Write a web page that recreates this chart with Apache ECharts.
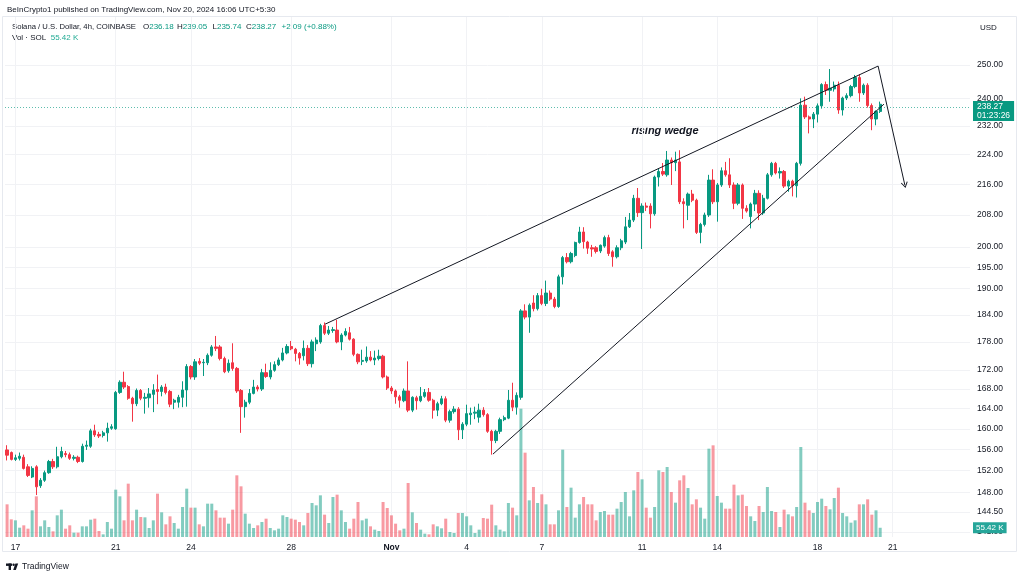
<!DOCTYPE html>
<html>
<head>
<meta charset="utf-8">
<script src="https://cdn.jsdelivr.net/npm/echarts@6/dist/echarts.min.js"></script>
<style>
  html, body { margin: 0; padding: 0; background: #fff; }
  #chart { width: 1024px; height: 578px; }
</style>
</head>
<body>
<div id="chart"></div>
<script>
  // SOL/USD 4h candles, Oct 16 17:30 -> Nov 20 13:30 (UTC+5:30)
  const opens = [
    155.9, 155.4, 154.1, 154.3, 154.5, 152.7, 150.8, 152.7, 149.2, 150.2,
    151.6, 153.7, 152.7, 154.6, 155.2, 155.0, 154.3, 154.5, 153.7, 156.6,
    156.6, 159.6, 158.9, 158.7, 159.2, 160.1, 160.0, 167.3, 169.4, 168.5,
    166.1, 165.0, 167.7, 166.1, 166.2, 166.9, 167.9, 167.5, 168.4, 167.5,
    165.3, 165.3, 166.3, 167.8, 172.7, 170.5, 173.8, 173.5, 173.5, 175.1,
    176.9, 176.9, 174.4, 171.8, 173.5, 172.3, 167.7, 164.4, 165.3, 167.1,
    168.4, 168.0, 171.4, 170.5, 171.9, 173.1, 174.1, 175.6, 177.0, 176.4,
    175.5, 175.0, 176.6, 173.3, 177.6, 178.0, 181.6, 179.9, 180.5, 180.6,
    178.0, 179.5, 180.0, 178.6, 175.3, 173.8, 173.9, 174.7, 174.1, 174.4,
    174.9, 170.5, 168.2, 167.6, 166.4, 165.6, 167.6, 163.7, 166.2, 165.6,
    166.5, 167.3, 165.7, 163.7, 165.0, 166.0, 161.7, 163.4, 163.9, 159.8,
    160.9, 162.8, 163.1, 162.3, 163.7, 162.8, 159.5, 157.7, 159.5, 161.8,
    162.1, 165.7, 164.3, 166.3, 184.9, 183.5, 186.7, 185.4, 188.4, 186.6,
    189.0, 187.6, 185.9, 192.8, 197.4, 196.4, 197.9, 201.1, 203.7, 201.2,
    199.8, 199.8, 199.0, 200.2, 202.3, 198.8, 197.6, 199.8, 201.2, 205.0,
    206.7, 212.3, 208.6, 210.3, 210.3, 208.3, 217.9, 219.4, 218.5, 222.5,
    221.8, 222.0, 211.4, 210.5, 213.4, 211.8, 203.6, 205.6, 208.0, 217.1,
    211.4, 215.8, 219.6, 218.5, 215.8, 211.0, 215.8, 209.7, 207.6, 210.8,
    213.6, 208.5, 212.3, 218.5, 221.6, 219.0, 219.4, 215.5, 216.8, 215.6,
    221.6, 238.0, 234.6, 234.0, 235.4, 237.8, 244.1, 242.4, 242.8, 243.9,
    236.6, 240.1, 240.8, 243.5, 246.2, 241.6, 243.9, 237.9, 234.0, 236.18
  ];
  const highs = [
    156.8, 155.6, 155.0, 155.4, 155.0, 153.2, 152.8, 153.0, 150.6, 152.0,
    154.0, 154.2, 156.5, 156.5, 155.7, 155.4, 154.9, 154.8, 157.1, 157.7,
    160.0, 160.8, 159.4, 159.6, 161.2, 160.9, 167.6, 169.8, 171.6, 168.8,
    166.4, 168.1, 168.0, 167.2, 168.2, 169.0, 171.0, 168.8, 169.1, 167.8,
    166.0, 166.8, 169.6, 173.2, 173.0, 174.3, 174.5, 174.3, 175.5, 177.3,
    179.3, 177.3, 174.8, 174.2, 177.7, 172.6, 168.0, 165.8, 168.0, 169.9,
    168.8, 172.2, 173.3, 173.6, 173.8, 174.6, 176.7, 177.5, 178.2, 176.7,
    175.8, 178.3, 177.3, 178.5, 179.0, 182.0, 182.3, 181.5, 181.3, 182.9,
    179.9, 181.0, 181.3, 178.8, 175.5, 176.3, 177.0, 176.0, 176.1, 176.3,
    175.2, 170.8, 168.6, 167.9, 166.8, 168.1, 173.8, 166.5, 166.6, 168.4,
    168.0, 168.2, 166.0, 165.4, 166.6, 166.5, 163.8, 164.5, 164.3, 161.3,
    164.8, 164.2, 164.4, 165.0, 164.3, 163.1, 159.8, 159.8, 162.2, 162.6,
    167.8, 169.3, 167.3, 185.3, 186.4, 186.6, 188.5, 189.0, 190.0, 191.9,
    189.6, 188.1, 193.3, 197.8, 198.5, 198.8, 201.3, 205.0, 204.9, 201.5,
    200.5, 200.2, 200.6, 202.8, 203.0, 199.2, 200.4, 202.0, 207.5, 208.5,
    213.2, 215.0, 211.0, 211.2, 211.0, 218.3, 220.3, 221.7, 225.0, 223.2,
    224.8, 225.2, 212.3, 213.8, 214.5, 212.2, 206.0, 208.6, 218.5, 220.0,
    216.3, 220.5, 222.0, 223.0, 216.5, 216.3, 216.2, 210.5, 211.2, 214.5,
    214.4, 213.2, 219.0, 222.0, 222.0, 220.5, 219.8, 217.2, 217.2, 222.0,
    240.0, 240.5, 235.0, 236.0, 238.5, 244.5, 245.0, 248.8, 245.0, 245.0,
    240.5, 241.5, 244.0, 247.0, 247.2, 244.4, 244.5, 238.5, 236.5, 239.05
  ];
  const lows = [
    153.9, 153.9, 153.8, 153.9, 152.2, 150.8, 150.6, 147.5, 148.8, 149.9,
    151.4, 152.3, 152.4, 154.3, 154.5, 154.0, 153.9, 153.4, 153.5, 155.9,
    156.3, 158.4, 158.2, 158.3, 157.5, 159.8, 159.8, 167.0, 168.0, 165.8,
    161.4, 164.5, 165.7, 163.0, 164.2, 163.3, 164.9, 166.5, 166.9, 164.3,
    163.9, 164.2, 164.3, 164.4, 170.0, 169.9, 173.0, 170.7, 173.0, 174.8,
    176.0, 174.0, 171.3, 171.4, 171.8, 167.2, 159.2, 162.2, 164.9, 166.9,
    167.5, 167.6, 170.3, 170.0, 171.6, 172.8, 173.8, 175.3, 176.2, 173.8,
    173.1, 174.0, 172.8, 172.5, 176.0, 177.6, 179.5, 179.5, 180.0, 177.7,
    176.2, 179.2, 178.3, 174.9, 173.2, 173.0, 173.5, 173.8, 173.0, 174.0,
    170.2, 167.8, 167.0, 165.0, 164.2, 165.3, 163.3, 163.3, 163.8, 165.3,
    166.2, 165.4, 162.0, 162.5, 164.7, 161.3, 161.2, 163.0, 157.8, 158.0,
    160.5, 160.8, 161.9, 161.2, 162.4, 159.2, 155.0, 157.2, 159.0, 161.5,
    161.9, 163.5, 162.8, 165.8, 183.0, 180.0, 184.8, 185.0, 186.2, 186.0,
    187.2, 185.5, 185.6, 191.0, 196.0, 196.0, 197.5, 200.8, 199.6, 198.3,
    197.6, 198.4, 198.5, 199.8, 197.8, 195.2, 197.2, 199.2, 200.7, 204.7,
    206.2, 207.5, 199.5, 209.0, 204.6, 207.8, 215.4, 218.2, 218.0, 215.8,
    219.5, 210.8, 204.6, 206.7, 211.3, 203.2, 200.9, 205.1, 207.5, 210.8,
    206.3, 215.3, 218.0, 215.0, 209.5, 210.5, 207.0, 208.6, 204.6, 209.0,
    206.7, 208.0, 212.0, 218.0, 218.6, 217.5, 215.0, 214.0, 212.8, 212.5,
    221.0, 234.0, 229.9, 231.4, 233.0, 237.0, 241.0, 239.0, 242.0, 235.5,
    235.0, 239.5, 240.3, 243.0, 239.0, 241.0, 237.3, 230.8, 232.2, 235.74
  ];
  const closes = [
    154.9, 154.1, 154.4, 154.7, 152.4, 151.1, 152.4, 149.0, 150.2, 151.6,
    153.7, 152.7, 154.6, 155.6, 155.0, 154.3, 154.5, 153.7, 156.6, 156.8,
    159.6, 158.8, 158.6, 159.2, 160.1, 160.4, 167.3, 169.4, 168.4, 166.1,
    165.0, 167.7, 166.1, 166.3, 167.0, 167.8, 167.5, 168.4, 167.3, 164.9,
    165.7, 166.3, 167.8, 172.7, 170.5, 173.7, 173.4, 173.6, 175.1, 176.9,
    176.6, 174.4, 171.6, 173.4, 172.3, 167.6, 164.4, 165.3, 167.1, 168.4,
    168.0, 171.4, 170.6, 171.9, 173.1, 174.1, 175.6, 177.0, 176.5, 175.5,
    174.5, 176.6, 173.3, 178.0, 178.4, 181.6, 179.9, 180.6, 180.7, 178.0,
    179.5, 180.3, 178.6, 175.3, 173.7, 174.0, 174.7, 174.1, 174.5, 174.9,
    170.5, 168.2, 167.6, 166.4, 165.7, 167.6, 163.7, 166.3, 165.6, 166.5,
    167.3, 165.7, 163.7, 165.0, 166.0, 161.7, 163.4, 163.9, 159.8, 160.9,
    163.0, 163.1, 163.3, 163.7, 162.8, 159.5, 157.7, 159.5, 161.8, 162.2,
    165.7, 164.3, 166.7, 184.9, 183.5, 186.2, 185.4, 188.4, 186.6, 189.0,
    187.6, 185.9, 192.8, 197.4, 196.4, 198.4, 201.1, 203.7, 201.3, 199.7,
    199.5, 198.9, 200.4, 202.3, 198.4, 197.6, 199.8, 201.5, 205.0, 206.7,
    212.3, 208.6, 210.3, 210.0, 208.3, 217.9, 219.4, 218.7, 222.5, 221.8,
    222.5, 211.4, 210.9, 213.4, 211.8, 203.6, 205.6, 208.0, 217.1, 211.4,
    215.8, 219.6, 218.5, 215.8, 211.0, 215.8, 209.7, 209.0, 210.8, 213.6,
    208.5, 212.3, 218.5, 221.6, 219.0, 219.4, 215.5, 216.8, 215.6, 221.6,
    238.0, 234.6, 234.0, 235.4, 237.8, 244.1, 242.4, 243.0, 243.9, 236.6,
    240.1, 240.8, 243.5, 246.2, 241.6, 243.9, 237.9, 234.0, 236.18, 238.27
  ];
  // volume in thousands of SOL
  const volumes = [
    196, 106, 100, 56, 70, 50, 160, 244, 64, 100,
    60, 34, 130, 164, 50, 70, 26, 26, 64, 64,
    104, 110, 36, 16, 90, 50, 284, 244, 100, 320,
    100, 164, 120, 118, 54, 100, 260, 148, 76, 124,
    84, 50, 180, 290, 176, 176, 76, 64, 200, 200,
    160, 116, 116, 80, 164, 370, 304, 140, 80, 54,
    70, 90, 110, 54, 40, 50, 130, 120, 110, 104,
    90, 70, 144, 204, 190, 250, 134, 84, 240, 254,
    160, 90, 50, 110, 210, 100, 110, 64, 44, 36,
    210, 174, 130, 80, 40, 50, 324, 148, 84, 44,
    20, 16, 76, 64, 52, 110, 30, 24, 144, 144,
    124, 70, 24, 44, 114, 110, 194, 70, 44, 34,
    204, 176, 130, 770, 506, 220, 300, 204, 256, 196,
    76, 76, 160, 524, 180, 296, 116, 196, 240, 196,
    196, 100, 150, 156, 134, 134, 170, 210, 270, 124,
    280, 390, 346, 176, 116, 180, 400, 390, 420, 270,
    206, 340, 370, 294, 196, 226, 176, 110, 530, 550,
    246, 206, 170, 170, 314, 250, 254, 186, 124, 96,
    186, 150, 300, 156, 150, 60, 164, 136, 124, 180,
    540, 206, 160, 144, 210, 230, 186, 166, 234, 296,
    144, 124, 86, 100, 196, 196, 226, 134, 160, 55.42
  ];

  const priceTicks = [250, 240, 232, 224, 216, 208, 200, 195, 190, 184, 178, 172, 168, 164, 160, 156, 152, 148, 144.5, 141];
  const dayTicks = [2, 26, 44, 68, 92, 110, 128, 152, 170, 194, 212];
  const dayLabels = ['17', '21', '24', '28', 'Nov', '4', '7', '11', '14', '18', '21'];
  const slotCount = 231; // candles plus empty space on the right
  const priceRange = [140.1, 265.2];
  const volumeMax = 900;

  // drawn pattern: [candle index, price]
  const upperWedge = [[76.1, 181.9], [208.5, 249.7]];
  const lowerWedge = [[116.3, 155.1], [209.9, 238.3]];
  const breakdownArrow = [[208.5, 249.7], [214.9, 215.8]];

  const UP = '#089981';
  const DOWN = '#F23645';
  const TEXT = '#131722';
  const GRID_LINE = '#F1F2F5';
  const FONT = 'Liberation Sans';

  const startTime = Date.UTC(2024, 9, 16, 17, 30);
  const categories = [];
  for (let i = 0; i < slotCount; i++) {
    categories.push(new Date(startTime + i * 4 * 3600 * 1000).toISOString().slice(0, 16));
  }

  const candles = opens.map((o, i) => [Math.log(o), Math.log(closes[i]), Math.log(lows[i]), Math.log(highs[i])]);
  const volumeData = volumes.map((v, i) => ({
    value: v,
    itemStyle: { color: closes[i] >= opens[i] ? 'rgba(8,153,129,0.5)' : 'rgba(242,54,69,0.5)' },
  }));
  const toLog = p => [p[0], Math.log(p[1])];
  const logTicks = priceTicks.map(Math.log);

  const last = opens.length - 1;
  const lastClose = closes[last];
  const change = lastClose - closes[last - 1];
  const changePct = change / closes[last - 1] * 100;

  const ohlcText = (k, v, x) => ({
    type: 'text',
    x,
    y: 27,
    style: {
      text: `{k|${k}}{v|${v}}`,
      fontFamily: FONT,
      fontSize: 8,
      verticalAlign: 'middle',
      rich: {
        k: { fill: TEXT, fontFamily: FONT, fontSize: 8 },
        v: { fill: UP, fontFamily: FONT, fontSize: 8 },
      },
    },
  });

  const chart = echarts.init(document.getElementById('chart'));
  chart.setOption({
    animation: false,
    textStyle: { fontFamily: FONT },
    grid: [
      { left: 5, right: 54, top: 17, bottom: 41 },
      { left: 5, right: 54, top: 387, bottom: 41 },
    ],
    xAxis: [
      { type: 'category', gridIndex: 0, data: categories, show: false },
      {
        type: 'value',
        gridIndex: 0,
        min: -0.5,
        max: slotCount - 0.5,
        position: 'bottom',
        axisLine: { show: false },
        axisTick: { show: false, customValues: dayTicks },
        axisLabel: {
          customValues: dayTicks,
          margin: 6,
          fontSize: 8.5,
          color: TEXT,
          formatter: (v) => {
            const label = dayLabels[dayTicks.indexOf(Math.round(v))] || '';
            return label === 'Nov' ? '{b|Nov}' : label;
          },
          rich: { b: { fontWeight: 'bold', fontSize: 8.5, color: TEXT, fontFamily: FONT } },
        },
        splitLine: { show: true, lineStyle: { color: GRID_LINE } },
      },
      { type: 'category', gridIndex: 1, data: categories, show: false },
    ],
    yAxis: [
      {
        type: 'value',
        gridIndex: 0,
        position: 'right',
        min: Math.log(priceRange[0]),
        max: Math.log(priceRange[1]),
        axisLine: { show: false },
        axisTick: { show: false, customValues: logTicks },
        axisLabel: {
          customValues: logTicks,
          margin: 7,
          fontSize: 8.5,
          color: TEXT,
          formatter: v => Math.exp(v).toFixed(2),
        },
        splitLine: { show: true, lineStyle: { color: GRID_LINE } },
      },
      { type: 'value', gridIndex: 1, min: 0, max: volumeMax, show: false },
    ],
    series: [
      {
        type: 'bar',
        xAxisIndex: 2,
        yAxisIndex: 1,
        data: volumeData,
        barWidth: 3,
        z: 1,
        silent: true,
        markLine: {
          silent: true,
          symbol: ['none', 'none'],
          data: [{ yAxis: volumes[last] }],
          lineStyle: { color: 'rgba(0,0,0,0)', width: 1, type: 'solid' },
          label: {
            show: true,
            position: 'end',
            distance: 3,
            formatter: volumes[last].toFixed(2) + ' K',
            backgroundColor: '#26A69A',
            color: '#fff',
            fontSize: 8,
            padding: [2, 3, 1, 3],
          },
        },
      },
      {
        type: 'candlestick',
        xAxisIndex: 0,
        yAxisIndex: 0,
        data: candles,
        barWidth: 2.8,
        z: 3,
        silent: true,
        itemStyle: {
          color: UP,
          color0: DOWN,
          borderColor: UP,
          borderColor0: DOWN,
          borderWidth: 1,
        },
        markLine: {
          silent: true,
          symbol: ['none', 'none'],
          data: [{ yAxis: Math.log(lastClose) }],
          lineStyle: { color: 'rgba(8,153,129,0.65)', type: [1, 2], width: 1 },
          label: {
            position: 'end',
            distance: 3,
            offset: [0, 4],
            formatter: lastClose.toFixed(2) + '\n01:23:26',
            backgroundColor: UP,
            color: '#fff',
            fontSize: 8.5,
            lineHeight: 9,
            padding: [1, 4, 1, 4],
          },
        },
      },
      {
        type: 'line',
        xAxisIndex: 1,
        yAxisIndex: 0,
        data: upperWedge.map(toLog),
        symbol: 'none',
        z: 5,
        silent: true,
        lineStyle: { color: TEXT, width: 1 },
        markLine: {
          silent: true,
          symbol: ['none', 'path://M5,0 L10,8 L8.8,8.8 L5,2.6 L1.2,8.8 L0,8 Z'],
          symbolSize: [7, 6],
          data: [[{ coord: toLog(breakdownArrow[0]) }, { coord: toLog(breakdownArrow[1]) }]],
          lineStyle: { color: TEXT, width: 1, type: 'solid' },
          label: { show: false },
        },
      },
      {
        type: 'line',
        xAxisIndex: 1,
        yAxisIndex: 0,
        data: lowerWedge.map(toLog),
        symbol: 'none',
        z: 5,
        silent: true,
        lineStyle: { color: TEXT, width: 1 },
      },
    ],
    graphic: [
      {
        type: 'rect',
        silent: true,
        z: -10,
        shape: { x: 2.5, y: 16.5, width: 1014, height: 535 },
        style: { fill: 'none', stroke: '#E6E9EF', lineWidth: 1 },
      },
      {
        type: 'text',
        x: 7,
        y: 10,
        style: {
          text: 'BeInCrypto1 published on TradingView.com, Nov 20, 2024 16:06 UTC+5:30',
          fontFamily: FONT, fontSize: 8, fill: TEXT, verticalAlign: 'middle',
        },
      },
      {
        type: 'text',
        x: 12,
        y: 27,
        style: {
          text: 'Solana / U.S. Dollar, 4h, COINBASE',
          fontFamily: FONT, fontSize: 7.7, fill: TEXT, verticalAlign: 'middle',
        },
      },
      ohlcText('O', opens[last].toFixed(2), 143),
      ohlcText('H', highs[last].toFixed(2), 177),
      ohlcText('L', lows[last].toFixed(2), 212.5),
      ohlcText('C', lastClose.toFixed(2), 246),
      {
        type: 'text',
        x: 281.5,
        y: 27,
        style: {
          text: `+${change.toFixed(2)} (+${changePct.toFixed(2)}%)`,
          fontFamily: FONT, fontSize: 8, fill: UP, verticalAlign: 'middle',
        },
      },
      {
        type: 'text',
        x: 12,
        y: 38,
        style: {
          text: '{k|Vol · SOL}  {v|' + volumes[last].toFixed(2) + ' K}',
          fontFamily: FONT, fontSize: 8, verticalAlign: 'middle',
          rich: {
            k: { fill: TEXT, fontFamily: FONT, fontSize: 8 },
            v: { fill: '#22AB94', fontFamily: FONT, fontSize: 8 },
          },
        },
      },
      {
        type: 'text',
        x: 980,
        y: 28,
        style: { text: 'USD', fontFamily: FONT, fontSize: 8, fill: TEXT, verticalAlign: 'middle' },
      },
      {
        type: 'text',
        x: 665,
        y: 131,
        style: {
          text: 'rising wedge',
          fontFamily: FONT, fontSize: 11, fontWeight: 'bold', fontStyle: 'italic',
          fill: TEXT, align: 'center', verticalAlign: 'middle',
        },
      },
      // TradingView mark
      { type: 'rect', shape: { x: 6, y: 563.5, width: 6, height: 2.4 }, style: { fill: TEXT } },
      { type: 'rect', shape: { x: 8.6, y: 563.5, width: 2.4, height: 6.5 }, style: { fill: TEXT } },
      { type: 'circle', shape: { cx: 13.6, cy: 564.7, r: 1.2 }, style: { fill: TEXT } },
      { type: 'polygon', shape: { points: [[15.4, 563.5], [18.2, 563.5], [15.8, 570], [13.2, 570]] }, style: { fill: TEXT } },
      {
        type: 'text',
        x: 22,
        y: 567,
        style: { text: 'TradingView', fontFamily: FONT, fontSize: 8.5, fill: TEXT, verticalAlign: 'middle' },
      },
    ],
  });
</script>
</body>
</html>
